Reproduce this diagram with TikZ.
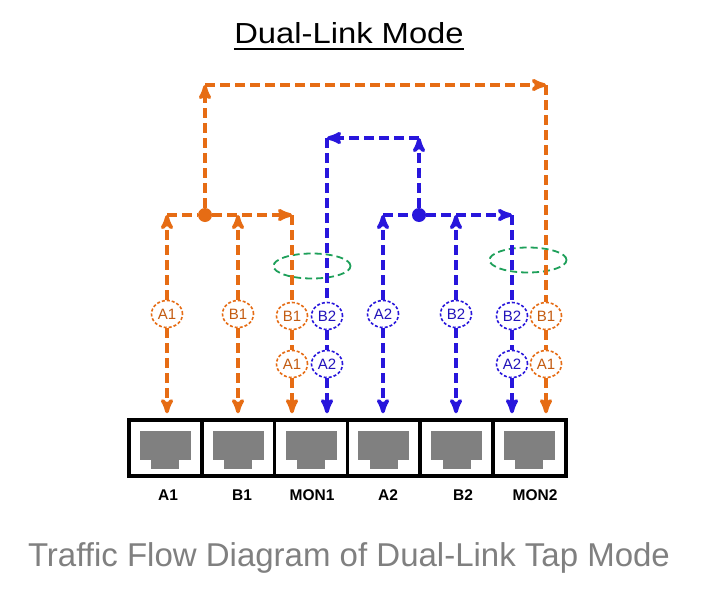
\documentclass[tikz,border=0pt]{standalone}
\usepackage{fontspec}
\setmainfont{Liberation Sans}
\usetikzlibrary{arrows,shapes.geometric}

\definecolor{tapor}{RGB}{230,108,20}
\definecolor{tapbl}{RGB}{40,22,220}
\definecolor{tapgr}{RGB}{30,160,90}
\definecolor{tapgy}{RGB}{128,128,128}

% gray RJ45 jack inside a port
\newcommand{\portjack}[1]{%
  \fill[tapgy] ([shift={(-25.5,-17)}]#1.center) rectangle ([shift={(25.5,12)}]#1.center);
  \fill[tapgy] ([shift={(-14,11)}]#1.center) rectangle ([shift={(14,21)}]#1.center);}

\begin{document}
\begin{tikzpicture}[x=1pt,y=-1pt,>=stealth',semithick]
  \tikzstyle{oflow}=[draw=tapor,line width=3.5pt,dash pattern=on 10pt off 5pt]
  \tikzstyle{bflow}=[draw=tapbl,line width=3.5pt,dash pattern=on 10pt off 5pt]
  \tikzstyle{tag}=[ellipse,fill=white,line width=1.6pt,dash pattern=on 3pt off 2pt,
                   minimum width=31pt,minimum height=27pt,inner sep=0pt,
                   font=\fontsize{15}{15}\selectfont]
  \tikzstyle{otag}=[tag,draw=tapor,text=tapor!85!black]
  \tikzstyle{btag}=[tag,draw=tapbl,text=tapbl!85!black]
  \tikzstyle{hub}=[circle,inner sep=0pt,minimum size=14pt]
  \tikzstyle{port}=[draw=black,line width=3.5pt,fill=white,inner sep=0pt,
                    minimum width=72.8pt,minimum height=56pt]
  \tikzstyle{portname}=[anchor=base,font=\bfseries\fontsize{15.5}{15.5}\selectfont]
  \tikzstyle{pair}=[ellipse,draw=tapgr,line width=1.8pt,dash pattern=on 7pt off 4pt,
                    minimum width=77pt,minimum height=25pt]
  \tikzstyle{ground}=[shorten >=5pt]

  \useasboundingbox[fill=white] (0,0) rectangle (701,605);

  % title
  \node[anchor=base,inner sep=0pt,xscale=1.13,font=\fontsize{29}{34}\selectfont]
    (title) at (349,43.5) {Dual-Link Mode};
  \draw[line width=2pt] ([yshift=-5pt]title.south west) -- ([yshift=-5pt]title.south east);

  % ports
  \node[port] (pA1) at (165.4,448) {};
  \node[port] (pB1) at (238.2,448) {};
  \node[port] (pM1) at (311.0,448) {};
  \node[port] (pA2) at (383.8,448) {};
  \node[port] (pB2) at (456.6,448) {};
  \node[port] (pM2) at (529.4,448) {};
  \portjack{pA1} \portjack{pB1} \portjack{pM1}
  \portjack{pA2} \portjack{pB2} \portjack{pM2}

  \node[portname] (lA1) at (168,500) {A1};
  \node[portname] (lB1) at (242,500) {B1};
  \node[portname] (lM1) at (312,500) {MON1};
  \node[portname] (lA2) at (388,500) {A2};
  \node[portname] (lB2) at (463,500) {B2};
  \node[portname] (lM2) at (535,500) {MON2};

  % monitor pairs
  \node[pair] (g1) at (312,266) {};
  \node[pair] (g2) at (528,260) {};

  % orange flow
  \node[hub,fill=tapor] (ho) at (205,215) {};
  \coordinate (oa1) at (167,215);
  \coordinate (ob1) at (238,215);
  \coordinate (om1) at (292,215);
  \coordinate (otl) at (205,85);
  \coordinate (otr) at (546,85);
  \node[otag] (tA1)  at (167,314) {A1};
  \node[otag] (tB1)  at (238,314) {B1};
  \node[otag] (tm1b) at (292,316) {B1};
  \node[otag] (tm1a) at (292,364) {A1};
  \node[otag] (tm2b) at (546,316) {B1};
  \node[otag] (tm2a) at (546,364) {A1};

  \draw[oflow,->] (tA1) -- (oa1);
  \draw[oflow,->,ground] (tA1) -- (tA1 |- pA1.north);
  \draw[oflow,->] (tB1) -- (ob1);
  \draw[oflow,->,ground] (tB1) -- (tB1 |- pB1.north);
  \draw[oflow] (oa1) -- (ho);
  \draw[oflow,->] (ho) -- (om1);
  \draw[oflow] (om1) -- (tm1b);
  \draw[oflow] (tm1b) -- (tm1a);
  \draw[oflow,->,ground] (tm1a) -- (tm1a |- pM1.north);
  \draw[oflow,->] (ho) -- (otl);
  \draw[oflow,->] (otl) -- (otr);
  \draw[oflow] (otr) -- (tm2b);
  \draw[oflow] (tm2b) -- (tm2a);
  \draw[oflow,->,ground] (tm2a) -- (tm2a |- pM2.north);

  % blue flow
  \node[hub,fill=tapbl] (hb) at (419,215) {};
  \coordinate (ba2) at (383,215);
  \coordinate (bb2) at (456,215);
  \coordinate (bm2) at (512,215);
  \coordinate (btr) at (419,138);
  \coordinate (btl) at (327,138);
  \node[btag] (tA2)  at (383,314) {A2};
  \node[btag] (tB2)  at (456,314) {B2};
  \node[btag] (tm1d) at (327,316) {B2};
  \node[btag] (tm1c) at (327,364) {A2};
  \node[btag] (tm2d) at (512,316) {B2};
  \node[btag] (tm2c) at (512,364) {A2};

  \draw[bflow,->] (tA2) -- (ba2);
  \draw[bflow,->,ground] (tA2) -- (tA2 |- pA2.north);
  \draw[bflow,->] (tB2) -- (bb2);
  \draw[bflow,->,ground] (tB2) -- (tB2 |- pB2.north);
  \draw[bflow] (ba2) -- (hb);
  \draw[bflow,->] (hb) -- (bm2);
  \draw[bflow] (bm2) -- (tm2d);
  \draw[bflow] (tm2d) -- (tm2c);
  \draw[bflow,->,ground] (tm2c) -- (tm2c |- pM2.north);
  \draw[bflow,->] (hb) -- (btr);
  \draw[bflow,->] (btr) -- (btl);
  \draw[bflow] (btl) -- (tm1d);
  \draw[bflow] (tm1d) -- (tm1c);
  \draw[bflow,->,ground] (tm1c) -- (tm1c |- pM1.north);

  % caption
  \node[anchor=base,text=tapgy,font=\fontsize{33}{38}\selectfont]
    (caption) at (349,566) {Traffic Flow Diagram of Dual-Link Tap Mode};
\end{tikzpicture}
\end{document}
